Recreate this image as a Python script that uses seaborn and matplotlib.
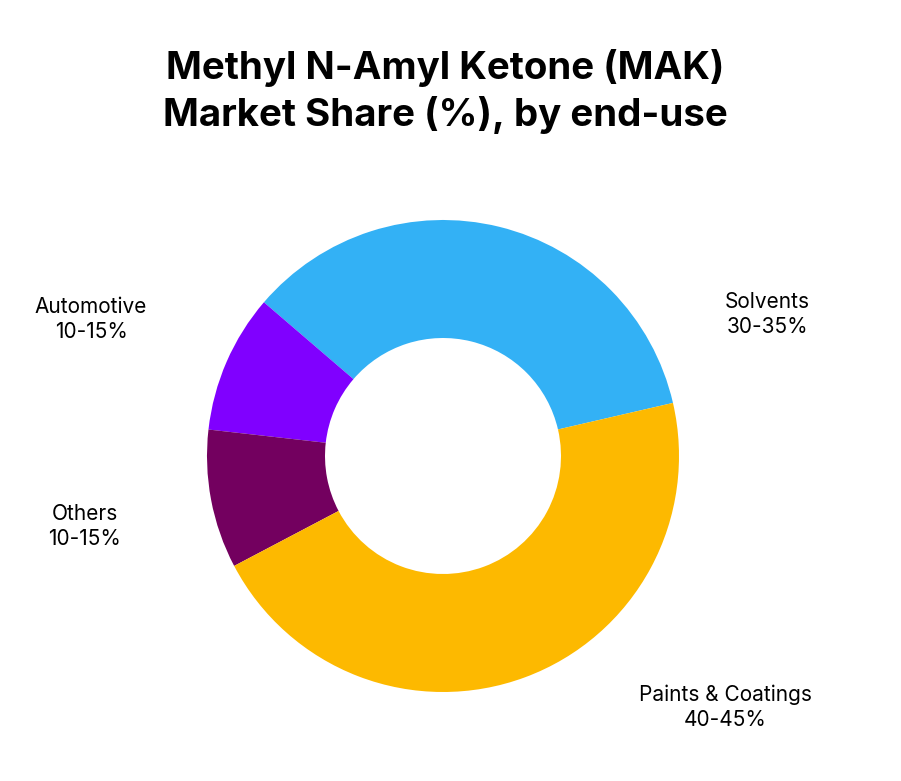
import matplotlib
matplotlib.use("Agg")
import matplotlib.pyplot as plt
import seaborn as sns

# Data
categories = ["Solvents", "Automotive", "Others", "Paints & Coatings"]
shares = [35.1, 9.5, 9.5, 45.9]
range_labels = ["30-35%", "10-15%", "10-15%", "40-45%"]
colors = ["#33B1F5", "#8000FF", "#73005F", "#FDB900"]
title_lines = ["Methyl N-Amyl Ketone (MAK)", "Market Share (%), by end-use"]

sns.set_theme(style="white")
plt.rcParams['font.family'] = ['Inter', 'DejaVu Sans']

W, H = 901, 781
fig = plt.figure(figsize=(W / 100, H / 100), dpi=100)
fig.patch.set_facecolor("white")
ax = fig.add_axes([0, 0, 1, 1])

cx, cy, R = 443, 456, 236
wedges, _ = ax.pie(shares, colors=sns.color_palette(colors), startangle=-13,
                   counterclock=False, center=(cx, cy), radius=R,
                   wedgeprops=dict(width=R * 0.5, linewidth=0))
# y axis is inverted below, so clockwise in data = counter-clockwise on screen
ax.set_xlim(0, W)
ax.set_ylim(H, 0)
ax.set_aspect("equal")
ax.axis("off")

# Title
ax.text(445, 79, title_lines[0], ha="center", va="baseline",
        fontsize=27.7, fontweight="bold", color="#000000")
ax.text(445, 125.5, title_lines[1], ha="center", va="baseline",
        fontsize=27.7, fontweight="bold", color="#000000")

# Labels
label_pos = {"Solvents": (767, 302), "Automotive": (91, 307),
             "Others": (84.5, 514), "Paints & Coatings": (725.5, 695)}
for cat, rng in zip(categories, range_labels):
    x, y = label_pos[cat]
    ax.text(x, y, cat, ha="center", va="center", fontsize=15, color="#000000")
    ax.text(x, y + 25, rng, ha="center", va="center", fontsize=15, color="#000000")

fig.savefig("out.png", dpi=100, facecolor="white")
